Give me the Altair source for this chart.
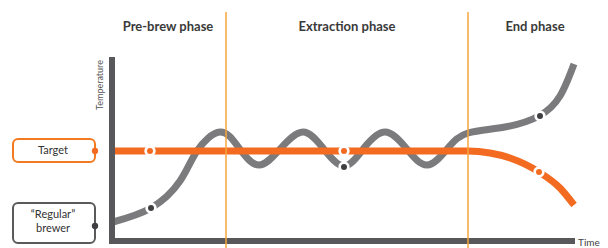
import altair as alt
import pandas as pd

# Diagram space: time (t) to the right of the origin, temperature (T) above the baseline
gray_time = [0, 38, 67, 84, 107, 126, 146, 168, 190, 210, 231, 251, 272, 293, 314, 335, 355, 392, 426, 447, 461]
gray_temp = [19, 33, 60, 90, 109, 93, 76, 93, 109, 93, 75, 93, 109, 93, 76, 93, 108, 114, 125, 145, 177]

target_time = [0, 200, 355, 377, 397, 426, 447, 461]
target_temp = [90, 90, 90, 88, 83, 69, 53, 36]

target_mark_time = [37, 231, 426]
target_mark_temp = [90, 90, 69]
regular_mark_time = [38, 231, 427]
regular_mark_temp = [33, 74, 125]

phase_names = ["Pre-brew phase", "Extraction phase", "End phase"]
phase_center = [55, 234, 422]
phase_bounds = [113, 355]

legend_labels = ["Target", "\u201cRegular\u201d", "brewer"]
legend_label_t = [-60, -60, -60]
legend_label_T = [90, 26, 12]

ORANGE = "#f36b21"
GRAY = "#7b7b7d"
DARK = "#3f3f41"
AXIS = "#58585a"
RULE = "#f9a53c"

xs = alt.Scale(domain=[-105, 487], nice=False, zero=False)
ys = alt.Scale(domain=[-7, 233], nice=False, zero=False)


def X(f="t"):
    return alt.X(f + ":Q", scale=xs, axis=None)


def Y(f="T"):
    return alt.Y(f + ":Q", scale=ys, axis=None)


gray_df = pd.DataFrame({"t": gray_time, "T": gray_temp})
target_df = pd.DataFrame({"t": target_time, "T": target_temp})
tm_df = pd.DataFrame({"t": target_mark_time, "T": target_mark_temp})
rm_df = pd.DataFrame({"t": regular_mark_time, "T": regular_mark_temp})

v_axis = alt.Chart(pd.DataFrame({"t": [-1], "T": [-3], "T2": [184]})).mark_rule(
    color=AXIS, strokeWidth=6, strokeCap="butt").encode(x=X(), y=Y(), y2="T2:Q")
h_axis = alt.Chart(pd.DataFrame({"t": [-4], "t2": [462], "T": [0]})).mark_rule(
    color=AXIS, strokeWidth=6, strokeCap="butt").encode(x=X(), x2="t2:Q", y=Y())

gray_line = alt.Chart(gray_df).mark_line(
    color=GRAY, strokeWidth=7, interpolate="natural", strokeCap="butt").encode(
    x=X(), y=Y(), order="t:Q")
target_line = alt.Chart(target_df).mark_line(
    color=ORANGE, strokeWidth=7, interpolate="monotone", strokeCap="butt").encode(
    x=X(), y=Y(), order="t:Q")

rings = alt.Chart(pd.concat([tm_df, rm_df])).mark_circle(
    color="white", size=130, opacity=1).encode(x=X(), y=Y())
tm_dots = alt.Chart(tm_df).mark_circle(color=ORANGE, size=36, opacity=1).encode(x=X(), y=Y())
rm_dots = alt.Chart(rm_df).mark_circle(color=DARK, size=36, opacity=1).encode(x=X(), y=Y())

phase_rules = alt.Chart(pd.DataFrame({"t": phase_bounds, "T": [-7, -7], "T2": [229, 229]})).mark_rule(
    color=RULE, strokeWidth=1.5).encode(x=X(), y=Y(), y2="T2:Q")

phase_text = alt.Chart(pd.DataFrame({"t": phase_center, "T": [214] * 3, "label": phase_names})).mark_text(
    font="Lato", fontWeight="bold", fontSize=13, color="#3a3a3a").encode(
    x=X(), y=Y(), text="label:N")

boxes = alt.Chart(pd.DataFrame({
    "t": [-100, -100], "t2": [-18, -18], "T": [79, -2], "T2": [102, 38],
    "who": ["Target", "Regular"]})).mark_rect(
    cornerRadius=5, fill="white", strokeWidth=2).encode(
    x=X(), x2="t2:Q", y=Y(), y2="T2:Q",
    stroke=alt.Stroke("who:N", scale=alt.Scale(domain=["Target", "Regular"], range=["#f47a22", "#5a5a5c"]), legend=None))

box_text = alt.Chart(pd.DataFrame({"t": legend_label_t, "T": legend_label_T, "label": legend_labels})).mark_text(
    font="Lato", fontSize=11, color="#333333").encode(x=X(), y=Y(), text="label:N")

box_dots = alt.Chart(pd.DataFrame({"t": [-18, -18], "T": [90, 15], "who": ["Target", "Regular"]})).mark_circle(
    size=40, opacity=1).encode(
    x=X(), y=Y(),
    color=alt.Color("who:N", scale=alt.Scale(domain=["Target", "Regular"], range=[ORANGE, DARK]), legend=None))

temp_label = alt.Chart(pd.DataFrame({"t": [-13], "T": [156], "label": ["Temperature"]})).mark_text(
    font="Lato", fontSize=9, angle=270, color="#555555").encode(x=X(), y=Y(), text="label:N")
time_label = alt.Chart(pd.DataFrame({"t": [465], "T": [-2], "label": ["Time"]})).mark_text(
    font="Lato", fontSize=10, align="left", baseline="middle", color="#444444").encode(x=X(), y=Y(), text="label:N")

chart = alt.layer(
    boxes, box_text, box_dots,
    gray_line, target_line, rings, tm_dots, rm_dots,
    v_axis, h_axis, phase_rules, phase_text, temp_label, time_label
).resolve_scale(color="independent", stroke="independent").properties(
    width=592, height=240, padding=0, autosize="none"
).configure_view(stroke=None)

chart.save("out.html", embed_options={"renderer": "svg", "actions": False})
